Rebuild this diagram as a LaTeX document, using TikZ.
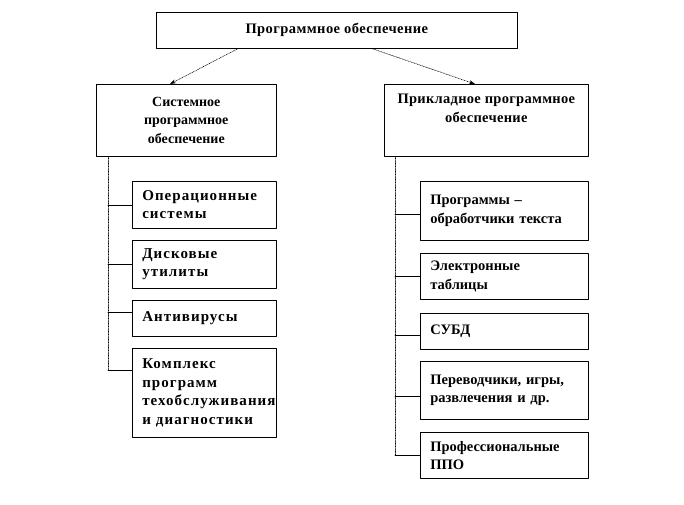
\documentclass[tikz,border=0pt]{standalone}
\usepackage{fontspec}
\setmainfont{Liberation Serif}
\usetikzlibrary{arrows.meta}

\begin{document}
\begin{tikzpicture}[x=1pt, y=-1pt, >={Stealth[length=6pt,width=4pt]}, line cap=round, line join=round,
  font=\bfseries\fontsize{14.5}{18.5}\selectfont,
  box/.style={draw, line width=0.6pt, inner sep=0pt, anchor=north west},
  item/.style={box, align=left, inner xsep=10pt, text width=#1},
  wide/.style={font=\bfseries\fontsize{14.5}{18.5}\selectfont\addfontfeature{LetterSpace=#1}},
  wider/.style={font=\bfseries\fontsize{15}{18.5}\selectfont\addfontfeature{LetterSpace=#1}},
  spine/.style={densely dotted, line width=0.6pt},
  link/.style={line width=0.6pt}]

  \useasboundingbox (0,0) rectangle (684,504);

  % parameters
  \def\wL{124pt} % text width, left column items
  \def\wR{148pt} % text width, right column items

  % root
  \node[box, wide=3, minimum width=361pt, minimum height=36pt] (po) at (156,12) {Программное обеспечение};

  % two main branches
  \node[box, font=\bfseries\fontsize{14}{18.5}\selectfont, minimum width=180pt, minimum height=72pt, align=center] (sys) at (96,84) {Системное\\программное\\обеспечение};
  \node[box, wide=2, minimum width=204pt, minimum height=72pt, align=center] (app) at (384,84) {Прикладное программное\\обеспечение\\\strut};

  % arrows from the root
  \draw[spine,->] ([xshift=82pt]po.south west) -- ([xshift=74pt]sys.north west);
  \draw[spine,->] ([xshift=216pt]po.south west) -- ([xshift=91pt]app.north west);

  % system software items
  \node[item=\wL, wider=7, minimum height=47pt] (os) at (132,181) {Операционные\\системы};
  \node[item=\wL, wider=7, minimum height=48pt] (disk) at (132,240) {Дисковые\\утилиты};
  \node[item=\wL, wider=7, minimum height=36pt] (av) at (132,300) {Антивирусы};
  \node[item=\wL, wider=7, minimum height=89pt] (diag) at (132,348) {Комплекс\\программ\\техобслуживания\\и диагностики};

  % entry points of the branches (where they differ from .west)
  \coordinate (avin) at ([yshift=6pt]av.west);
  \coordinate (diagin) at ([yshift=23pt]diag.west);

  % application software items
  \node[item=\wR, minimum height=59pt] (txt) at (420,181) {Программы --\\обработчики текста};
  \node[item=\wR, minimum height=46pt] (tab) at (420,253) {Электронные\\таблицы};
  \node[item=\wR, minimum height=36pt] (db) at (420,313) {СУБД};
  \node[item=\wR, minimum height=58pt] (game) at (420,361) {Переводчики, игры,\\развлечения и др.};
  \node[item=\wR, minimum height=46pt] (prof) at (420,432) {Профессиональные\\ППО};

  \coordinate (txtin) at ([yshift=-3pt]txt.west);
  \coordinate (dbin) at ([yshift=-4pt]db.west);
  \coordinate (gamein) at ([yshift=-6pt]game.west);

  % left spine (dotted) and its branches
  \coordinate (ls) at ([xshift=12pt]sys.south west);
  \draw[spine] (ls) -- (ls |- diagin);
  \draw[link] (ls |- os.west) -- (os.west);
  \draw[link] (ls |- disk.west) -- (disk.west);
  \draw[link] (ls |- avin) -- (avin);
  \draw[link] (ls |- diagin) -- (diagin);

  % right spine (dotted) and its branches
  \coordinate (rs) at ([xshift=11pt]app.south west);
  \draw[spine] (rs) -- (rs |- prof.west);
  \draw[link] (rs |- txtin) -- (txtin);
  \draw[link] (rs |- tab.west) -- (tab.west);
  \draw[link] (rs |- dbin) -- (dbin);
  \draw[link] (rs |- gamein) -- (gamein);
  \draw[link] (rs |- prof.west) -- (prof.west);

\end{tikzpicture}
\end{document}
